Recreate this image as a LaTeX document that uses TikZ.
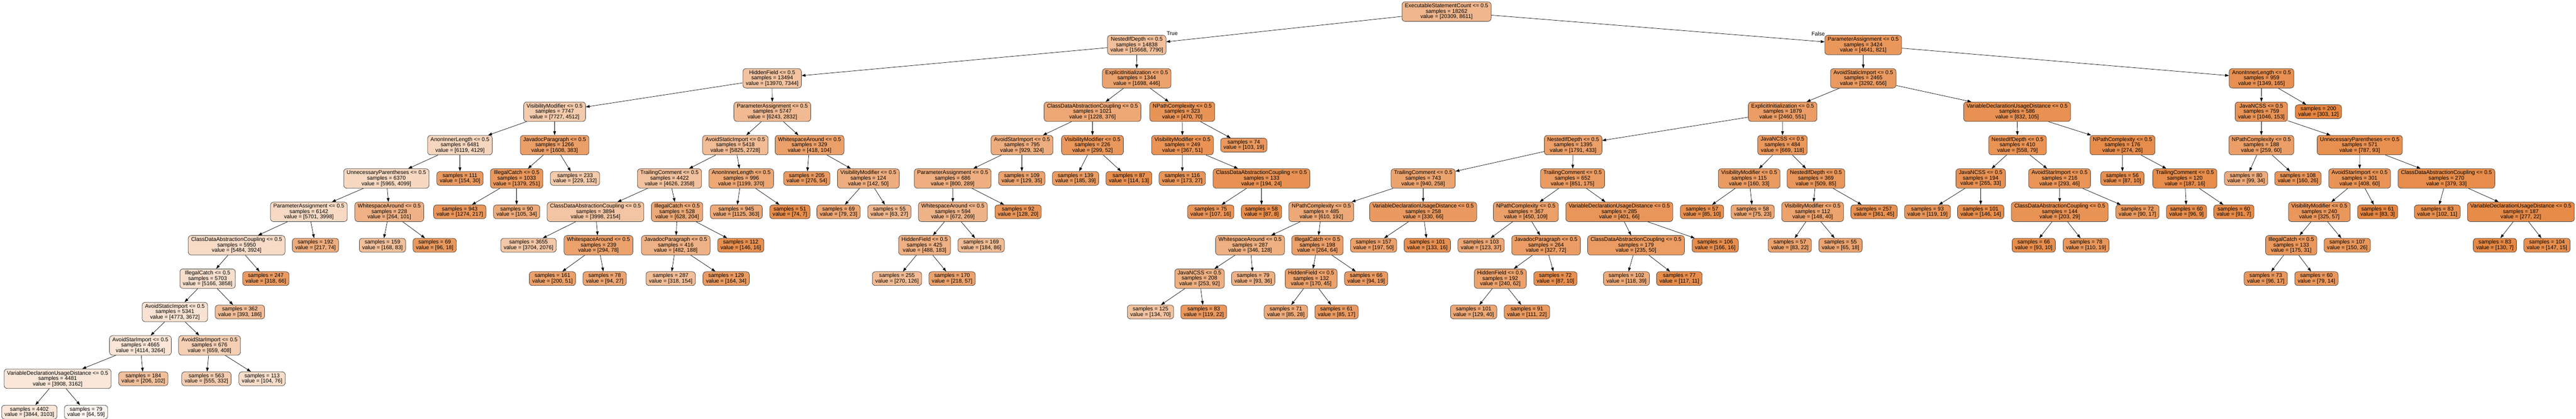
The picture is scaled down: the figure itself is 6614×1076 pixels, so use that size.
\documentclass[tikz,border=0pt]{standalone}
\usepackage{fontspec}
\setmainfont{Liberation Sans}
\usetikzlibrary{arrows.meta}
\definecolor{cls}{RGB}{229,129,57}
\newcommand\DN[7]{\edef\al{\fpeval{round(100*(1-#7/#6),1)}}\node[dn,fill=cls!\al!white] (#1) at (#2,{-29.8-85.78*#3}) {#4 <= 0.5\\samples = #5\\value = [#6, #7]};}
\newcommand\LF[6]{\edef\al{\fpeval{round(100*(1-#6/#5),1)}}\node[lf,fill=cls!\al!white] (#1) at (#2,{-29.8-85.78*#3}) {samples = #4\\value = [#5, #6]};}
\begin{document}
\begin{tikzpicture}[x=1pt,y=1pt,
  box/.style={draw=black!75, line width=1pt, rounded corners=8pt, align=center, inner xsep=7.5pt, inner ysep=0pt, font=\fontsize{14}{14}\selectfont},
  dn/.style={box, minimum height=50pt},
  lf/.style={box, minimum height=35.7pt},
  conn/.style={draw=black, line width=0.9pt, -{Triangle[length=10pt,width=7pt]}},
  lbl/.style={font=\fontsize{14}{14}\selectfont, inner sep=0pt}]
\fill[white] (0,0) rectangle (6614,-1076);
\useasboundingbox (0,0) rectangle (6614,-1076);
% level 0
\DN{r}{3714}{0}{ExecutableStatementCount}{18262}{20309}{8611}
% level 1
\DN{a}{2918.7}{1}{NestedIfDepth}{14838}{15668}{7790}
\DN{b}{4783.8}{1}{ParameterAssignment}{3424}{4641}{821}
% level 2
\DN{aa}{1982.5}{2}{HiddenField}{13494}{13970}{7344}
\DN{ab}{2918.5}{2}{ExplicitInitialization}{1344}{1698}{446}
\DN{ba}{4784}{2}{AvoidStaticImport}{2465}{3292}{656}
\DN{bb}{5806.5}{2}{AnonInnerLength}{959}{1349}{165}
% level 3
\DN{aaa}{1424}{3}{VisibilityModifier}{7747}{7727}{4512}
\DN{aab}{1983}{3}{ParameterAssignment}{5747}{6243}{2832}
\DN{aba}{2805}{3}{ClassDataAbstractionCoupling}{1021}{1228}{376}
\DN{abb}{3035.5}{3}{NPathComplexity}{323}{470}{70}
\DN{baa}{4577}{3}{ExplicitInitialization}{1879}{2460}{551}
\DN{bab}{5179}{3}{VariableDeclarationUsageDistance}{586}{832}{105}
\DN{bba}{5806}{3}{JavaNCSS}{759}{1046}{153}
\LF{bbb}{5952.6}{3}{200}{303}{12}
% level 4
\DN{aaaa}{1181}{4}{AnonInnerLength}{6481}{6119}{4129}
\DN{aaab}{1424}{4}{JavadocParagraph}{1266}{1608}{383}
\DN{aaba}{1888}{4}{AvoidStaticImport}{5418}{5825}{2728}
\DN{aabb}{2078.5}{4}{WhitespaceAround}{329}{418}{104}
\DN{abaa}{2624}{4}{AvoidStarImport}{795}{929}{324}
\DN{abab}{2805}{4}{VisibilityModifier}{226}{299}{52}
\DN{abba}{3036}{4}{VisibilityModifier}{249}{367}{51}
\LF{abbb}{3193.5}{4}{74}{103}{19}
\DN{baaa}{4039}{4}{NestedIfDepth}{1395}{1791}{433}
\DN{baab}{4576.5}{4}{JavaNCSS}{484}{669}{118}
\DN{baba}{5180}{4}{NestedIfDepth}{410}{558}{79}
\DN{babb}{5449.6}{4}{NPathComplexity}{176}{274}{26}
\DN{bbaa}{5806}{4}{NPathComplexity}{188}{259}{60}
\DN{bbab}{6058.6}{4}{UnnecessaryParentheses}{571}{787}{93}
% level 5
\DN{aaaaa}{992}{5}{UnnecessaryParentheses}{6370}{5965}{4099}
\LF{aaaab}{1181}{5}{111}{154}{30}
\DN{aaaba}{1326.5}{5}{IllegalCatch}{1033}{1379}{251}
\LF{aaabb}{1476.5}{5}{233}{229}{132}
\DN{aabaa}{1719}{5}{TrailingComment}{4422}{4626}{2358}
\DN{aabab}{1903}{5}{AnonInnerLength}{996}{1199}{370}
\LF{aabba}{2071.5}{5}{205}{276}{54}
\DN{aabbb}{2229.5}{5}{VisibilityModifier}{124}{142}{50}
\DN{abaaa}{2446}{5}{ParameterAssignment}{686}{800}{289}
\LF{abaab}{2623.5}{5}{109}{129}{35}
\LF{ababa}{2761.5}{5}{139}{185}{39}
\LF{ababb}{2898.5}{5}{87}{114}{13}
\LF{abbaa}{3035.5}{5}{116}{173}{27}
\DN{abbab}{3239}{5}{ClassDataAbstractionCoupling}{133}{194}{24}
\DN{baaaa}{3654}{5}{TrailingComment}{743}{940}{258}
\DN{baaab}{4037.6}{5}{TrailingComment}{652}{851}{175}
\DN{baaba}{4491}{5}{VisibilityModifier}{115}{160}{33}
\DN{baabb}{4662.5}{5}{NestedIfDepth}{369}{509}{85}
\DN{babaa}{5085.4}{5}{JavaNCSS}{194}{265}{33}
\DN{babab}{5288}{5}{AvoidStarImport}{216}{293}{46}
\LF{babba}{5449.3}{5}{56}{87}{10}
\DN{babbb}{5609.7}{5}{TrailingComment}{120}{187}{16}
\LF{bbaaa}{5767}{5}{80}{99}{34}
\LF{bbaab}{5900}{5}{108}{160}{26}
\DN{bbaba}{6058.4}{5}{AvoidStarImport}{301}{408}{60}
\DN{bbabb}{6281.3}{5}{ClassDataAbstractionCoupling}{270}{379}{33}
% level 6
\DN{aaaaaa}{793}{6}{ParameterAssignment}{6142}{5701}{3998}
\DN{aaaaab}{999.5}{6}{WhitespaceAround}{228}{264}{101}
\LF{aaabaa}{1180.5}{6}{943}{1274}{217}
\LF{aaabab}{1326.5}{6}{90}{105}{34}
\DN{aabaaa}{1529}{6}{ClassDataAbstractionCoupling}{3894}{3998}{2154}
\DN{aabaab}{1738.5}{6}{IllegalCatch}{528}{628}{204}
\LF{aababa}{1890.5}{6}{945}{1125}{363}
\LF{aababb}{2028}{6}{51}{74}{7}
\LF{aabbba}{2153}{6}{69}{79}{23}
\LF{aabbbb}{2283.5}{6}{55}{63}{27}
\DN{abaaaa}{2446.5}{6}{WhitespaceAround}{594}{672}{269}
\LF{abaaab}{2614}{6}{92}{128}{20}
\LF{abbaba}{3108.5}{6}{75}{107}{16}
\LF{abbabb}{3239}{6}{58}{87}{8}
\DN{baaaaa}{3392.6}{6}{NPathComplexity}{485}{610}{192}
\DN{baaaab}{3654}{6}{VariableDeclarationUsageDistance}{258}{330}{66}
\DN{baaaba}{3917.6}{6}{NPathComplexity}{367}{450}{109}
\DN{baaabb}{4157.6}{6}{VariableDeclarationUsageDistance}{285}{401}{66}
\LF{baabaa}{4370}{6}{57}{85}{10}
\LF{baabab}{4500}{6}{58}{75}{23}
\DN{baabba}{4654}{6}{VisibilityModifier}{112}{148}{40}
\LF{baabbb}{4811.6}{6}{257}{361}{45}
\LF{babaaa}{4949}{6}{93}{119}{19}
\LF{babaab}{5085.5}{6}{101}{146}{14}
\DN{bababa}{5288.5}{6}{ClassDataAbstractionCoupling}{144}{203}{29}
\LF{bababb}{5488}{6}{72}{90}{17}
\LF{babbba}{5613.9}{6}{60}{96}{9}
\LF{babbbb}{5735.5}{6}{60}{91}{7}
\DN{bbabaa}{5955}{6}{VisibilityModifier}{240}{325}{57}
\LF{bbabab}{6104.7}{6}{61}{83}{3}
\LF{bbabba}{6257.8}{6}{83}{102}{11}
\DN{bbabbb}{6472.4}{6}{VariableDeclarationUsageDistance}{187}{277}{22}
% level 7
\DN{p7a}{607.5}{7}{ClassDataAbstractionCoupling}{5950}{5484}{3924}
\LF{p7b}{810}{7}{192}{217}{74}
\LF{p7c}{982}{7}{159}{168}{83}
\LF{p7d}{1116}{7}{69}{96}{18}
\LF{q7a}{1357}{7}{3655}{3704}{2076}
\DN{q7b}{1536.6}{7}{WhitespaceAround}{239}{294}{78}
\DN{q7c}{1735}{7}{JavadocParagraph}{416}{482}{188}
\LF{q7d}{1902}{7}{112}{146}{16}
\DN{s7a}{2374}{7}{HiddenField}{425}{488}{183}
\LF{s7b}{2519}{7}{169}{184}{86}
\DN{t7a}{3209.6}{7}{WhitespaceAround}{287}{346}{128}
\DN{t7b}{3382.5}{7}{IllegalCatch}{198}{264}{64}
\LF{t7c}{3526.7}{7}{157}{197}{50}
\LF{t7d}{3664.7}{7}{101}{133}{16}
\LF{u7a}{3802.7}{7}{103}{123}{37}
\DN{u7b}{3969.5}{7}{JavadocParagraph}{264}{327}{72}
\DN{u7c}{4200.5}{7}{ClassDataAbstractionCoupling}{179}{235}{50}
\LF{u7d}{4403.8}{7}{106}{166}{16}
\LF{v7a}{4595.5}{7}{57}{83}{22}
\LF{v7b}{4725.6}{7}{55}{65}{18}
\LF{w7a}{5221.6}{7}{66}{93}{10}
\LF{w7b}{5356}{7}{78}{110}{19}
\DN{x7a}{5882.8}{7}{IllegalCatch}{133}{175}{31}
\LF{x7b}{6026.6}{7}{107}{150}{26}
\LF{x7c}{6405.7}{7}{83}{130}{7}
\LF{x7d}{6539.4}{7}{104}{147}{15}
% level 8
\DN{p8a}{533}{8}{IllegalCatch}{5703}{5166}{3858}
\LF{p8b}{682.5}{8}{247}{318}{66}
\LF{q8a}{1418.5}{8}{161}{200}{51}
\LF{q8b}{1552.5}{8}{78}{94}{27}
\LF{q8c}{1722}{8}{287}{318}{154}
\LF{q8d}{1864.5}{8}{129}{164}{34}
\LF{s8a}{2303}{8}{255}{270}{126}
\LF{s8b}{2444.5}{8}{170}{218}{57}
\DN{t8a}{3079.7}{8}{JavaNCSS}{208}{253}{92}
\LF{t8b}{3217.6}{8}{79}{93}{36}
\DN{t8c}{3366.4}{8}{HiddenField}{132}{170}{45}
\LF{t8d}{3507.8}{8}{66}{94}{19}
\DN{u8a}{3852}{8}{HiddenField}{192}{240}{62}
\LF{u8b}{3993.5}{8}{72}{87}{10}
\LF{u8c}{4176}{8}{102}{118}{39}
\LF{u8d}{4311.7}{8}{77}{117}{11}
\LF{x8a}{5817.4}{8}{73}{96}{17}
\LF{x8b}{5947.5}{8}{60}{79}{14}
% level 9
\DN{p9a}{449}{9}{AvoidStaticImport}{5341}{4773}{3672}
\LF{p9b}{616}{9}{362}{393}{186}
\LF{t9a}{2954}{9}{125}{134}{70}
\LF{t9b}{3090.7}{9}{83}{119}{22}
\LF{t9c}{3301.5}{9}{71}{85}{28}
\LF{t9d}{3431.6}{9}{61}{85}{17}
\LF{u9a}{3783.6}{9}{101}{129}{40}
\LF{u9b}{3920.5}{9}{91}{111}{22}
% level 10
\DN{p10a}{360.5}{10}{AvoidStarImport}{4665}{4114}{3264}
\DN{p10b}{538}{10}{AvoidStarImport}{676}{659}{408}
% level 11
\DN{p11a}{148}{11}{VariableDeclarationUsageDistance}{4481}{3908}{3162}
\LF{p11b}{368}{11}{184}{206}{102}
\LF{p11c}{530}{11}{563}{555}{332}
\LF{p11d}{673}{11}{113}{104}{76}
% level 12
\LF{p12a}{75.4}{12}{4402}{3844}{3103}
\LF{p12b}{221}{12}{79}{64}{59}
% labels
\node[lbl] (tl) at (3009.7,-85.8) {True};
\node[lbl] (fl) at (4668.2,-86.5) {False};
% edges
\foreach \p/\c in {r/a,r/b,a/aa,a/ab,aa/aaa,aa/aab,aaa/aaaa,aaa/aaab,aaaa/aaaaa,aaaa/aaaab,
 aaaaa/aaaaaa,aaaaa/aaaaab,aaaaaa/p7a,aaaaaa/p7b,p7a/p8a,p7a/p8b,p8a/p9a,p8a/p9b,
 p9a/p10a,p9a/p10b,p10a/p11a,p10a/p11b,p11a/p12a,p11a/p12b,p10b/p11c,p10b/p11d,
 aaaaab/p7c,aaaaab/p7d,aaab/aaaba,aaab/aaabb,aaaba/aaabaa,aaaba/aaabab,
 aab/aaba,aab/aabb,aaba/aabaa,aaba/aabab,aabaa/aabaaa,aabaa/aabaab,
 aabaaa/q7a,aabaaa/q7b,q7b/q8a,q7b/q8b,aabaab/q7c,aabaab/q7d,q7c/q8c,q7c/q8d,
 aabab/aababa,aabab/aababb,aabb/aabba,aabb/aabbb,aabbb/aabbba,aabbb/aabbbb,
 ab/aba,ab/abb,aba/abaa,aba/abab,abaa/abaaa,abaa/abaab,abaaa/abaaaa,abaaa/abaaab,
 abaaaa/s7a,abaaaa/s7b,s7a/s8a,s7a/s8b,abab/ababa,abab/ababb,
 abb/abba,abb/abbb,abba/abbaa,abba/abbab,abbab/abbaba,abbab/abbabb,
 b/ba,b/bb,ba/baa,ba/bab,baa/baaa,baa/baab,baaa/baaaa,baaa/baaab,
 baaaa/baaaaa,baaaa/baaaab,baaaaa/t7a,baaaaa/t7b,t7a/t8a,t7a/t8b,t8a/t9a,t8a/t9b,
 t7b/t8c,t7b/t8d,t8c/t9c,t8c/t9d,baaaab/t7c,baaaab/t7d,
 baaab/baaaba,baaab/baaabb,baaaba/u7a,baaaba/u7b,u7b/u8a,u7b/u8b,u8a/u9a,u8a/u9b,
 baaabb/u7c,baaabb/u7d,u7c/u8c,u7c/u8d,
 baab/baaba,baab/baabb,baaba/baabaa,baaba/baabab,baabb/baabba,baabb/baabbb,
 baabba/v7a,baabba/v7b,
 bab/baba,bab/babb,baba/babaa,baba/babab,babaa/babaaa,babaa/babaab,
 babab/bababa,babab/bababb,bababa/w7a,bababa/w7b,babb/babba,babb/babbb,
 babbb/babbba,babbb/babbbb,
 bb/bba,bb/bbb,bba/bbaa,bba/bbab,bbaa/bbaaa,bbaa/bbaab,bbab/bbaba,bbab/bbabb,
 bbaba/bbabaa,bbaba/bbabab,bbabaa/x7a,bbabaa/x7b,x7a/x8a,x7a/x8b,
 bbabb/bbabba,bbabb/bbabbb,bbabbb/x7c,bbabbb/x7d}
 \draw[conn] (\p) -- (\c);
\end{tikzpicture}
\end{document}
